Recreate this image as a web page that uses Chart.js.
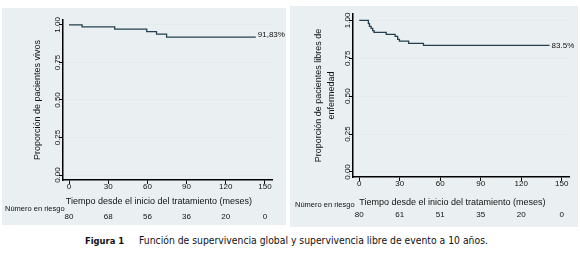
<!DOCTYPE html>
<html lang="es">
<head>
  <meta charset="UTF-8" />
  <title>Figura 1</title>
  <script src="https://cdn.jsdelivr.net/npm/chart.js"></script>
  <style>
    body { margin: 0; width: 580px; height: 263px; background: #fff; position: relative; overflow: hidden; }
    .panel { position: absolute; background: #eaf0f2; }
    .panel canvas { display: block; }
    #caption { position: absolute; left: 85px; top: 234px; font: 10.3px "DejaVu Sans Condensed", "DejaVu Sans", sans-serif; color: #111; white-space: pre; }
    #caption b { font-size: 9.3px; margin-right: 15px; }
  </style>
</head>
<body>
  <div class="panel" style="left:2px; top:8px; width:284px; height:217px;">
    <canvas id="osChart" width="284" height="217"></canvas>
  </div>
  <div class="panel" style="left:290px; top:6px; width:288px; height:221px;">
    <canvas id="efsChart" width="288" height="221"></canvas>
  </div>
  <div id="caption"><b>Figura 1</b>Función de supervivencia global y supervivencia libre de evento a 10 años.</div>

  <script>
    // data
    const timeTicks = [0, 30, 60, 90, 120, 150];
    const survTicks = [0, 0.25, 0.5, 0.75, 1];

    // overall survival (Kaplan-Meier steps)
    const osTimes = [0, 10, 35, 59.5, 67, 74.7, 143];
    const osSurv = [1, 0.9875, 0.9722, 0.9555, 0.9389, 0.9183, 0.9183];
    const osAtRisk = [80, 68, 56, 36, 20, 0];

    // event-free survival
    const efsTimes = [0, 6.8, 7.6, 8.8, 10, 11, 20, 26.6, 28.5, 29.8, 36.6, 47.6, 141];
    const efsSurv = [1, 0.978, 0.96, 0.947, 0.933, 0.921, 0.907, 0.894, 0.875, 0.863, 0.848, 0.835, 0.835];
    const efsAtRisk = [80, 61, 51, 35, 20, 0];

    const FONT = '"Liberation Sans", Arial, sans-serif';
    const LINE = '#233f50';

    // end-of-curve label, x title and number-at-risk row
    const extras = {
      id: 'extras',
      afterDraw(chart, args, o) {
        const { ctx } = chart;
        const xs = chart.scales.x, ys = chart.scales.y;
        const pts = chart.data.datasets[0].data;
        const last = pts[pts.length - 1];
        ctx.save();
        ctx.fillStyle = '#111';
        ctx.textBaseline = 'middle';

        ctx.font = '8px ' + FONT;
        ctx.textAlign = 'left';
        ctx.fillText(o.endLabel, xs.getPixelForValue(last.x) + 2, ys.getPixelForValue(last.y) + o.endDy);

        ctx.font = '9px ' + FONT;
        ctx.textAlign = 'center';
        const mid = (xs.getPixelForValue(timeTicks[0]) + xs.getPixelForValue(timeTicks[timeTicks.length - 1])) / 2;
        ctx.fillText('Tiempo desde el inicio del tratamiento (meses)', mid - 8, o.titleY);

        ctx.font = '7.5px ' + FONT;
        ctx.textAlign = 'left';
        ctx.fillText('Número en riesgo', o.riskLabelX, o.riskLabelY);

        ctx.font = '8px ' + FONT;
        ctx.textAlign = 'center';
        o.risk.forEach((n, i) => ctx.fillText(String(n), xs.getPixelForValue(timeTicks[i]), o.riskY));
        ctx.restore();
      }
    };

    function kmChart(id, times, surv, box, yRange, yTitle, yTitlePad, extra) {
      const canvas = document.getElementById(id);
      return new Chart(canvas, {
        type: 'line',
        data: {
          datasets: [{
            data: times.map((t, i) => ({ x: t, y: surv[i] })),
            stepped: 'before',
            borderColor: LINE,
            borderWidth: 1.3,
            pointRadius: 0,
            fill: false
          }]
        },
        options: {
          responsive: false,
          animation: false,
          devicePixelRatio: 1,
          layout: { padding: { left: 0, top: box.top, right: canvas.width - box.right, bottom: 0 } },
          plugins: { legend: { display: false }, tooltip: { enabled: false }, extras: extra },
          scales: {
            x: {
              type: 'linear',
              min: -4.6,
              max: 155.4,
              afterBuildTicks: s => { s.ticks = timeTicks.map(v => ({ value: v })); },
              afterFit: s => { s.height = canvas.height - box.bottom; },
              grid: { drawOnChartArea: false, drawTicks: true, tickLength: 4, tickColor: '#000' },
              border: { color: '#000', width: 1.5 },
              ticks: { font: { size: 8, family: FONT }, color: '#111', padding: -2, maxRotation: 0 }
            },
            y: {
              min: yRange[0],
              max: yRange[1],
              afterBuildTicks: s => { s.ticks = survTicks.map(v => ({ value: v })); },
              afterFit: s => { s.width = box.left; },
              grid: { color: '#e4ecee', lineWidth: 1, tickLength: 4, tickColor: '#000' },
              border: { color: '#000', width: 1.5 },
              ticks: {
                font: { size: 8, family: FONT }, color: '#111',
                minRotation: 90, maxRotation: 90, crossAlign: 'center', padding: -7,
                callback: v => v.toFixed(2)
              },
              title: {
                display: true, text: yTitle, color: '#111',
                font: { size: 9, family: FONT, lineHeight: 1.4 },
                padding: { top: yTitlePad, bottom: 0 }
              }
            }
          }
        },
        plugins: [extras]
      });
    }

    kmChart('osChart', osTimes, osSurv,
      { left: 61, right: 270, top: 12, bottom: 172 },
      [-0.033, 1.033], 'Proporción de pacientes vivos', 29,
      { endLabel: '91,83%', endDy: -2.5, titleY: 193.7, riskLabelX: 3, riskLabelY: 201, riskY: 208.7, risk: osAtRisk });

    kmChart('efsChart', efsTimes, efsSurv,
      { left: 63, right: 279, top: 8, bottom: 171 },
      [-0.033, 1.042], ['Proporción de pacientes libres de', 'enfermedad'], 22.7,
      { endLabel: '83.5%', endDy: 0, titleY: 196.3, riskLabelX: 5, riskLabelY: 199, riskY: 208.3, risk: efsAtRisk });
  </script>
</body>
</html>
